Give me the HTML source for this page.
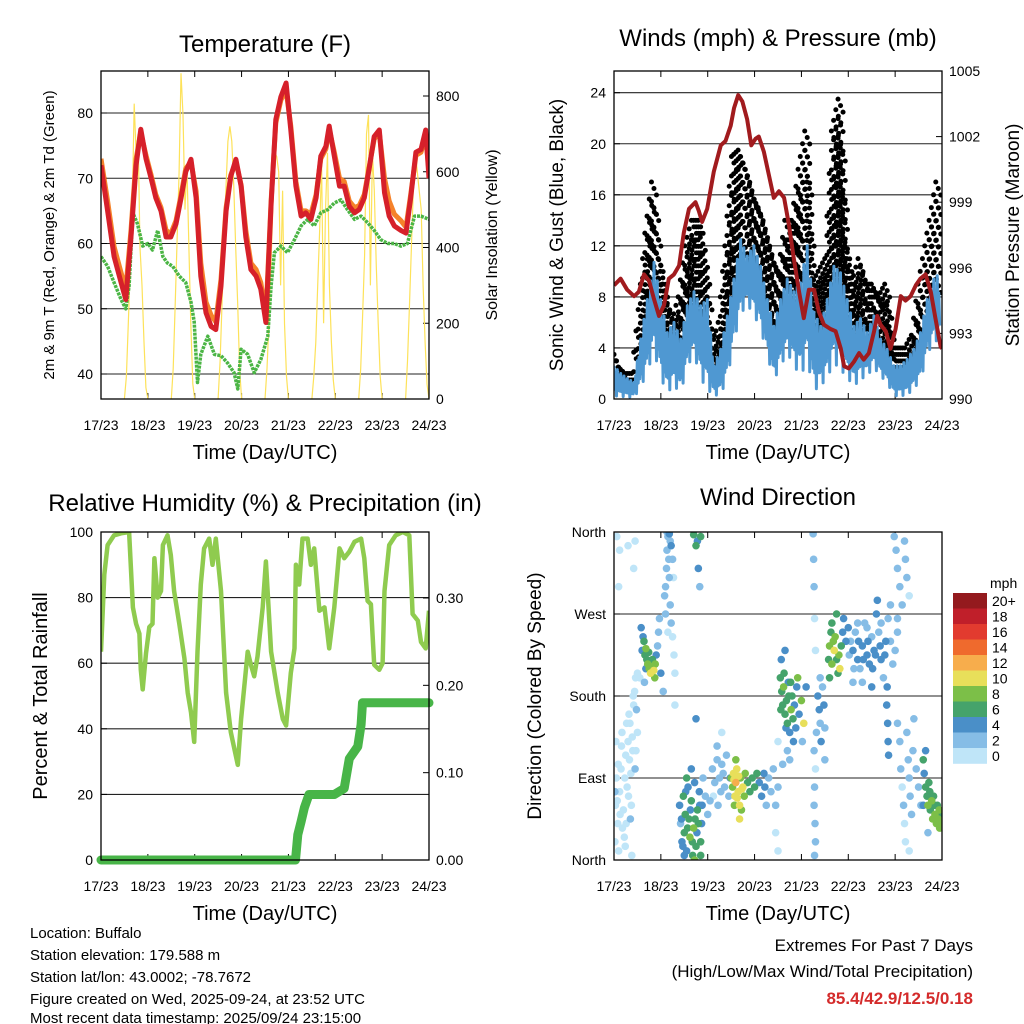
<!DOCTYPE html>
<html><head><meta charset="utf-8"><title>Buffalo station meteogram</title>
<style>
html,body{margin:0;padding:0;background:#fff;}
svg{display:block;font-family:"Liberation Sans",Arial,sans-serif;}
</style></head>
<body>
<svg id="chart" width="1024" height="1024" viewBox="0 0 1024 1024" xmlns="http://www.w3.org/2000/svg">
<rect x="0" y="0" width="1024" height="1024" fill="#fff"/>
<text x="265" y="52" font-size="24" text-anchor="middle">Temperature (F)</text>
<text x="778" y="46" font-size="24" text-anchor="middle">Winds (mph) &amp; Pressure (mb)</text>
<text x="265" y="511" font-size="24" text-anchor="middle">Relative Humidity (%) &amp; Precipitation (in)</text>
<text x="778" y="505" font-size="24" text-anchor="middle">Wind Direction</text>

<text transform="translate(54,235) rotate(-90)" font-size="15" text-anchor="middle">2m &amp; 9m T (Red, Orange) &amp; 2m Td (Green)</text>
<text transform="translate(497,235) rotate(-90)" font-size="16" text-anchor="middle">Solar Insolation (Yellow)</text>
<text transform="translate(563,235) rotate(-90)" font-size="19" text-anchor="middle">Sonic Wind &amp; Gust (Blue, Black)</text>
<text transform="translate(1019,235) rotate(-90)" font-size="19" text-anchor="middle">Station Pressure (Maroon)</text>
<text transform="translate(47,696) rotate(-90)" font-size="20" text-anchor="middle">Percent &amp; Total Rainfall</text>
<text transform="translate(541,696) rotate(-90)" font-size="19" text-anchor="middle">Direction (Colored By Speed)</text>

<text x="265" y="459" font-size="20" text-anchor="middle">Time (Day/UTC)</text>
<text x="778" y="459" font-size="20" text-anchor="middle">Time (Day/UTC)</text>
<text x="265" y="920" font-size="20" text-anchor="middle">Time (Day/UTC)</text>
<text x="778" y="920" font-size="20" text-anchor="middle">Time (Day/UTC)</text>

<g font-size="15">
<text x="30" y="938">Location: Buffalo</text>
<text x="30" y="960">Station elevation: 179.588 m</text>
<text x="30" y="982">Station lat/lon: 43.0002; -78.7672</text>
<text x="30" y="1004">Figure created on Wed, 2025-09-24, at 23:52 UTC</text>
<text x="30" y="1025" dy="-2">Most recent data timestamp: 2025/09/24 23:15:00</text>
</g>
<g font-size="17" text-anchor="end">
<text x="973" y="951">Extremes For Past 7 Days</text>
<text x="973" y="977">(High/Low/Max Wind/Total Precipitation)</text>
<text x="973" y="1004" font-weight="bold" fill="#d42b2b">85.4/42.9/12.5/0.18</text>
</g>
<g id="layer"></g>
</svg>
<script>
// ---------- data ----------
const dayLabels = ["17/23","18/23","19/23","20/23","21/23","22/23","23/23","24/23"];
const tempDays = [0,0.14,0.28,0.43,0.53,0.64,0.75,0.85,0.96,1.07,1.17,1.28,1.39,1.49,1.6,1.71,1.81,1.92,2.03,2.13,2.24,2.35,2.45,2.56,2.67,2.77,2.88,2.99,3.09,3.2,3.31,3.41,3.52,3.63,3.73,3.84,3.95,4.05,4.16,4.27,4.37,4.48,4.59,4.69,4.8,4.87,4.98,5.09,5.19,5.3,5.41,5.51,5.62,5.73,5.83,5.94,6.05,6.15,6.26,6.4,6.51,6.61,6.72,6.83,6.93,7.0];
const tempRed = [72,65,58,54,51.4,61,72,77.5,73,70,67,65,61,61,63,67,71,72.9,67,55,49.4,47.3,46.8,53.5,65,70.3,72.9,68.8,61,56,55,53,47.9,66,79,82.5,84.6,77.4,68.8,64.2,64.7,63.7,67,73.4,74.9,78,73.4,68.8,68.8,65.7,64.7,65.2,67,71.8,76.4,77.4,67.8,64.2,62.7,62,61.6,67,74,74.4,77.4,70];
const tempOrange = [73,66.5,59.5,55.5,53,62,73,77,73.5,70.5,67.5,65.5,62,61.5,63.5,67.5,71.5,72.5,68,57,51,49,48,54.5,65.5,70.5,72.5,69,62,57,56,54,49,66.5,78.5,82,83.5,78,69.5,65,65,64.5,67.5,73,74.5,77.5,74,70,69.5,66.5,65.5,65.8,67.5,72,76,77,70,66.5,64.5,63.5,62.5,67.5,73.5,74,76.5,71];
const dewDays = [0,0.14,0.28,0.43,0.53,0.6,0.68,0.78,0.89,1.0,1.1,1.21,1.32,1.42,1.53,1.67,1.81,1.92,1.99,2.06,2.13,2.28,2.42,2.56,2.7,2.84,2.92,2.99,3.13,3.27,3.41,3.56,3.63,3.7,3.84,3.98,4.13,4.27,4.41,4.55,4.69,4.84,4.98,5.12,5.26,5.41,5.55,5.69,5.83,5.97,6.12,6.26,6.4,6.54,6.69,6.83,7.0];
const dewValues = [58,56.5,54,51.4,50,53.5,64.7,63,59.6,60,59,62,58,57,56.5,55,54,51,48,38.7,43,45.8,43,42.8,41.7,40.2,37.7,43.8,43,40.2,42.2,45.8,53.5,58.6,59.6,58.6,60.6,62.7,63.7,62.7,64.7,65.2,66.2,66.7,65.2,63.7,64.2,63.2,62,60.6,60,60,59.6,60,64.2,64.2,63.7];
const solarDay1 = [0,60,200,350,500,780,650,700,400,300,150,30,0];
const solarDay2 = [0,80,250,420,600,860,750,500,620,400,200,40,0];
const solarDay3 = [0,100,250,400,560,680,720,680,560,400,250,80,0];
const solarDay4 = [0,80,200,350,500,650,640,600,300,550,200,60,0];
const solarDay5 = [0,60,150,300,450,620,200,500,650,300,150,50,0];
const solarDay6 = [0,80,220,380,700,750,300,650,550,350,200,60,0];
const solarDay7 = [0,100,250,400,560,650,600,550,500,300,150,40,0];
const solarTicks = [0,200,400,600,800];
const tempTicks = [40,50,60,70,80];

const windStepDays = 0.1422;
const windHigh = [2.6,2,1.6,1.3,4.7,7.8,10.7,7.8,5.2,6,4.7,7.3,8.4,7.3,7.8,2.6,3.9,6.5,9.4,12.5,11.2,12,10.4,7.8,5.7,7.8,9.4,8.4,9.1,12,6.8,5.7,7.8,10.4,9.9,7.8,5.7,6.3,5.2,6.5,4.7,3.9,2.6,2.6,3.1,3.9,5.2,7.8,9.4,9.9];
const windLow = [0,0,0,0,0.5,1.5,3,1,0,0.5,0,2,3,1,0,0,0,1,4,6,7,6,5,3,1,2,3,2,1,2,0,0.5,1,2,1.5,1,0.5,1,1.5,2,1.5,1,0,0,0,0.5,1,3,4,4];
const gustHigh = [4,2.5,2,2,7,13,17,11,8,6,8,12,14,14,10,4,6,12,19,19.5,18,16,15,13,11,10,14,14,18,21,9,10,11,21,23.5,12,9,11,9,9,8,9,4,4,4,5,9,12,15,18];
const pressDays = [0,0.14,0.28,0.43,0.53,0.64,0.75,0.85,0.96,1.07,1.17,1.28,1.39,1.49,1.6,1.74,1.81,1.88,1.99,2.13,2.28,2.38,2.49,2.56,2.65,2.74,2.84,2.93,3.02,3.09,3.2,3.31,3.41,3.52,3.63,3.73,3.84,3.95,4.05,4.16,4.27,4.37,4.48,4.62,4.73,4.84,4.91,5.01,5.12,5.23,5.33,5.44,5.55,5.62,5.69,5.8,5.9,6.01,6.12,6.22,6.33,6.44,6.54,6.65,6.76,6.86,6.97,7.0];
const pressValues = [995.2,995.5,995.0,994.7,994.9,995.7,995.4,994.6,993.8,994.3,995.5,995.7,996.1,997.6,998.7,999,998.6,998.1,998.7,1000.4,1001.6,1001.8,1002.5,1003.3,1003.9,1003.6,1002.8,1001.6,1001.9,1002.0,1001.3,1000.2,999.2,999.5,999.2,998,996.4,994.9,993.7,995,995,994,993.4,993.2,993.1,992.3,991.5,991.4,991.7,992.1,991.8,992.1,993.1,993.8,993.4,993.1,992.3,993.2,994.7,994.5,994.7,995.2,995.5,995.7,994.9,993.7,992.4,992.3];
const windTicks = [0,4,8,12,16,20,24];
const pressTicks = [990,993,996,999,1002,1005];

const rhDays = [0,0.07,0.14,0.28,0.43,0.6,0.68,0.75,0.82,0.85,0.89,0.96,1.03,1.1,1.14,1.21,1.28,1.32,1.42,1.49,1.56,1.67,1.78,1.85,1.92,1.99,2.06,2.13,2.2,2.31,2.38,2.45,2.56,2.67,2.77,2.92,2.99,3.13,3.2,3.27,3.34,3.45,3.52,3.63,3.77,3.88,3.95,4.05,4.13,4.16,4.23,4.3,4.41,4.48,4.55,4.66,4.77,4.87,4.98,5.09,5.19,5.3,5.41,5.55,5.62,5.69,5.76,5.83,5.94,6.01,6.05,6.15,6.29,6.44,6.58,6.65,6.76,6.83,6.93,7.0];
const rhValues = [63.5,87,96,99,99.6,100,77,72,69,58,52,63,71,72,92,80,82,96,99,93,82,72,61.5,51,45,36,63.5,84,95,98,90,98,82,51,39,29,43,63.5,59.5,56,62,77,91,63.5,51,43,41,57,64.5,90,84,98,98,90,95,76,77,64.5,77,95,92,94,97,98,92,79,78,59.5,58,60,82,96,99,100,99,75,73,66.5,64.5,76];
const precipDays = [0,4.15,4.2,4.27,4.34,4.44,4.98,5.19,5.3,5.48,5.55,5.58,7.0];
const precipValues = [0,0,0.029,0.044,0.06,0.075,0.075,0.082,0.116,0.13,0.155,0.18,0.18];
const rhTicks = [0,20,40,60,80,100];
const precipTicks = ["0.00","0.10","0.20","0.30"];

const dirTickLabels = ["North","East","South","West","North"];
const speedBinLabels = ["0","2","4","6","8","10","12","14","16","18","20+"];
const speedColors = ["#bfe5f8","#86bde6","#4a8fc8","#45a36b","#7cbf48","#e8df5a","#f7ad4c","#ef6a2d","#e23b2f","#c01f2a","#941a1e"];
// [day, direction degrees, speed mph]
const dirObs = [
[0.02,20,1],[0.03,60,1],[0.05,90,1],[0.04,130,0.5],[0.08,40,1],[0.1,10,0.5],[0.12,75,1],[0.15,100,1],[0.17,140,1],[0.2,55,1],[0.22,25,1],[0.25,115,1],[0.27,150,0.5],[0.28,80,1],[0.3,130,1],[0.32,160,1],[0.35,45,2],[0.36,95,1],[0.38,5,1],[0.4,120,1],[0.42,170,1],[0.44,185,1],[0.46,200,1],[0.48,165,2],[0.5,140,1],[0.47,120,1],[0.45,100,2],[0.33,110,1],[0.18,35,1],[0.06,355,1],[0.12,340,0.5],[0.3,345,1],[0.45,350,1],[0.1,300,0.5],[0.42,320,1],[0.5,205,1],[0.02,75,3],
[0.07,65,1],[0.09,105,1],[0.13,50,1],[0.16,125,0.5],[0.23,90,1],[0.26,40,1],[0.31,70,1],[0.34,150,1],[0.39,135,1],[0.41,180,1],[0.37,60,1],[0.24,15,1],
[0.58,255,4],[0.62,245,4],[0.6,230,4],[0.64,240,6],[0.66,225,6],[0.68,232,8],[0.7,220,6],[0.72,215,8],[0.75,210,9],[0.78,205,10],[0.8,212,8],[0.82,220,6],[0.85,208,10],[0.88,215,8],[0.9,225,4],[0.93,235,3],[0.95,250,3],[0.97,265,2],[1.0,205,4],[0.68,210,5],[0.74,228,7],[0.87,200,9],[1.05,185,3],[0.65,195,2],[0.55,200,1],
[1.08,290,2],[1.1,300,2],[1.12,320,3],[1.13,340,3],[1.15,355,3],[1.17,330,2],[1.18,310,2],[1.2,280,2],[1.22,260,2],[1.25,245,1],[1.28,225,1],[1.3,205,1],[1.1,270,2],[1.15,250,1],[1.2,350,2],[1.22,345,4],[1.25,330,2],[1.27,310,1],[1.13,360,3],[1.18,358,4],[1.3,170,1],
[1.7,357,6],[1.75,345,7],[1.78,350,5],[1.85,355,6],[1.8,320,4],[1.83,300,2],
[1.4,60,4],[1.42,40,3],[1.45,20,5],[1.48,70,6],[1.5,30,7],[1.52,50,6],[1.55,10,5],[1.58,80,4],[1.6,45,7],[1.62,25,8],[1.65,65,6],[1.68,5,7],[1.7,35,8],[1.72,85,5],[1.75,15,6],[1.78,55,7],[1.8,40,6],[1.82,75,4],[1.85,20,6],[1.88,60,5],[1.9,90,3],[1.95,70,3],[2.0,50,2],[2.05,65,2],[1.55,90,6],[1.65,100,4],[1.5,5,4],[1.72,0,8],[1.85,5,7],
[1.44,45,4],[1.47,15,5],[1.53,75,5],[1.57,35,6],[1.63,55,5],[1.67,20,6],[1.73,45,6],[1.77,30,5],[1.83,60,5],[1.87,40,4],
[2.1,100,2],[2.12,70,1],[2.15,85,2],[2.2,110,3],[2.22,60,2],[2.25,90,3],[2.28,75,2],[2.3,105,3],[2.33,95,3],[2.36,80,2],[2.4,115,3],[2.45,70,2],[2.48,90,4],[2.2,125,2],[2.3,140,1],[1.75,155,4],
[2.5,90,8],[2.53,80,9],[2.55,95,10],[2.58,70,11],[2.6,85,12],[2.62,100,10],[2.65,75,11],[2.68,60,10],[2.7,90,9],[2.72,55,8],[2.75,80,10],[2.78,70,9],[2.8,95,8],[2.85,85,7],[2.9,75,6],[2.95,90,7],[3.0,80,6],[3.05,95,6],[2.6,110,8],[2.68,45,10],
[2.56,88,10],[2.63,68,10],[2.66,92,10],[2.73,78,10],[2.57,60,9],
[3.1,85,4],[3.15,70,4],[3.2,95,5],[3.22,80,4],[3.25,60,3],[3.3,90,3],[3.35,75,2],[3.4,100,2],[3.45,60,2],[3.5,80,2],[3.45,30,1],[3.5,10,1],
[3.55,200,6],[3.58,185,7],[3.6,170,6],[3.62,190,8],[3.65,160,6],[3.68,175,7],[3.7,150,6],[3.72,195,5],[3.75,140,5],[3.78,165,8],[3.8,180,6],[3.82,155,7],[3.85,170,5],[3.88,145,5],[3.9,190,4],[3.92,200,8],[3.95,160,4],[4.0,175,9],[4.05,150,10],[4.02,130,3],[4.1,190,4],[3.57,220,4],[3.65,230,5],[3.7,120,3],[3.75,110,2],[3.5,130,1],[3.6,105,2],
[3.56,165,6],[3.63,205,6],[3.67,145,5],[3.73,180,7],[3.77,195,6],[3.83,130,4],
[4.25,358,2],[4.26,330,2],[4.27,300,2],[4.28,265,1],[4.3,230,1],[4.3,100,1],[4.28,80,2],[4.27,60,2],[4.29,40,3],[4.3,20,3],[4.28,5,3],[4.27,120,2],
[4.35,180,4],[4.38,165,4],[4.4,150,3],[4.42,130,4],[4.45,190,3],[4.48,170,4],[4.5,145,3],[4.32,140,3],[4.4,200,3],[4.5,110,2],
[4.58,220,6],[4.6,235,8],[4.63,250,7],[4.65,260,6],[4.68,240,8],[4.7,230,10],[4.72,245,9],[4.75,220,7],[4.78,205,6],[4.8,225,8],[4.82,210,10],[4.85,235,6],[4.88,250,5],[4.9,265,4],[4.95,240,4],[4.75,270,6],[4.6,200,7],[4.65,215,9],
[5.0,255,4],[5.05,240,3],[5.1,230,4],[5.15,250,3],[5.2,220,4],[5.25,210,3],[5.3,235,4],[5.35,260,3],[5.4,225,4],[5.45,215,5],[5.5,245,3],[5.55,230,4],[5.6,270,4],[5.62,285,4],[5.65,250,3],[5.7,220,4],[5.75,200,3],[5.8,240,4],[5.85,265,3],[5.9,280,2],[5.95,215,2],[6.0,230,2],[6.05,250,2],[5.2,260,2],[5.3,195,2],[5.5,190,4],[5.7,260,2],[5.9,240,2],[5.1,195,2],[5.4,255,2],
[5.02,225,3],[5.12,210,3],[5.22,240,4],[5.32,220,4],[5.42,240,4],[5.52,210,4],[5.58,225,4],[5.68,235,4],[5.78,225,4],
[5.82,170,4],[5.84,150,4],[5.85,130,4],[5.86,115,4],[5.83,190,4],
[5.98,355,2],[6.02,340,2],[6.05,320,2],[6.1,300,2],[6.15,280,2],[6.2,350,2],[6.22,330,3],[6.25,310,2],[6.3,290,1],[6.05,265,2],
[6.05,150,3],[6.1,130,2],[6.12,100,2],[6.15,80,1],[6.18,60,2],[6.2,40,1],[6.22,20,1],[6.25,140,3],[6.28,110,3],[6.3,90,2],[6.32,70,3],[6.35,50,2],[6.38,120,3],[6.4,155,2],[6.45,100,3],[6.5,80,2],[6.55,60,2],[6.3,10,1],
[6.6,110,6],[6.62,95,5],[6.65,80,6],[6.68,70,7],[6.7,60,8],[6.72,85,6],[6.75,55,7],[6.78,65,8],[6.8,45,9],[6.82,70,7],[6.85,50,8],[6.88,40,8],[6.9,60,7],[6.92,45,8],[6.95,35,9],[6.98,50,7],[6.65,120,4],[6.6,60,4],[6.7,30,3],
[6.74,75,6],[6.84,60,7],[6.94,55,8],[6.97,40,8]
];

// ---------- helpers ----------
const NS = "http://www.w3.org/2000/svg";
const layer = document.getElementById("layer");
function mk(tag, attrs, parent) {
  const e = document.createElementNS(NS, tag);
  for (const k in attrs) e.setAttribute(k, attrs[k]);
  (parent || layer).appendChild(e);
  return e;
}
function linScale(d0, d1, r0, r1) { return v => r0 + (v - d0) * (r1 - r0) / (d1 - d0); }
function pathFrom(xs, ys) { return xs.map((x, i) => (i ? "L" : "M") + x.toFixed(1) + "," + ys[i].toFixed(1)).join(""); }

const P1 = {l:101, r:429, t:71, b:399};
const P2 = {l:614, r:942, t:71, b:399};
const P3 = {l:101, r:429, t:532, b:860};
const P4 = {l:614, r:942, t:532, b:860};

function clip(id, P) {
  let defs = document.getElementById("defs");
  if (!defs) { defs = mk("defs", {id:"defs"}); }
  const c = mk("clipPath", {id:id}, defs);
  mk("rect", {x:P.l, y:P.t, width:P.r - P.l, height:P.b - P.t}, c);
}
clip("c1", P1); clip("c2", P2); clip("c3", P3); clip("c4", P4);

function frameAndXAxis(P, name) {
  const x = linScale(0, 7, P.l, P.r);
  const g = mk("g", {});
  
  
  dayLabels.forEach((lab, i) => {
    const xx = x(i);
    mk("line", {x1:xx, x2:xx, y1:P.b, y2:P.b - 6, stroke:"#000", "stroke-width":1}, g);
    mk("line", {x1:xx, x2:xx, y1:P.t, y2:P.t + 6, stroke:"#000", "stroke-width":1}, g);
    const t = mk("text", {x:xx, y:P.b + 31, "font-size":14, "text-anchor":"middle"}, g);
    t.textContent = lab;
    
    
  });
  return x;
}
function border(P, name) {
  const r = mk("rect", {x:P.l, y:P.t, width:P.r - P.l, height:P.b - P.t, fill:"none", stroke:"#000", "stroke-width":1.3});
  
  
}
function yAxis(P, ticks, labels, scale, side, grid, name) {
  const g = mk("g", {});
  
  
  ticks.forEach((v, i) => {
    const yy = scale(v);
    if (grid && yy > P.t + 1 && yy < P.b - 1) mk("line", {x1:P.l, x2:P.r, y1:yy, y2:yy, stroke:"#222", "stroke-width":1.1}, g);
    if (side === "left") {
      mk("line", {x1:P.l, x2:P.l + 6, y1:yy, y2:yy, stroke:"#000"}, g);
      const t = mk("text", {x:P.l - 8, y:yy + 5, "font-size":14, "text-anchor":"end"}, g);
      t.textContent = labels[i];
      
      
    } else {
      mk("line", {x1:P.r, x2:P.r - 6, y1:yy, y2:yy, stroke:"#000"}, g);
      const t = mk("text", {x:P.r + 7, y:yy + 5, "font-size":14, "text-anchor":"start"}, g);
      t.textContent = labels[i];
      
      
    }
  });
}

// ---------- Panel 1: temperature ----------
{
  const x = frameAndXAxis(P1, "temperature");
  const yT = linScale(40, 80, 374, 113);
  const yS = linScale(0, 800, 399, 96);
  yAxis(P1, tempTicks, tempTicks.map(String), yT, "left", true, "temperature-y-axis");
  yAxis(P1, solarTicks, solarTicks.map(String), yS, "right", false, "solar-y-axis");
  const g = mk("g", {"clip-path":"url(#c1)"});
  
  
  const solarRows = [solarDay1, solarDay2, solarDay3, solarDay4, solarDay5, solarDay6, solarDay7];
  solarRows.forEach((row, d) => {
    const xs = row.map((v, h) => x(d + 0.5 + h / 24));
    const ys = row.map(v => yS(v));
    const p = mk("path", {d:pathFrom(xs, ys), fill:"none", stroke:"#fde25a", "stroke-width":1.2}, g);
    
    
  });
  const pd = mk("path", {d:pathFrom(dewDays.map(x), dewValues.map(yT)), fill:"none", stroke:"#4bb545", "stroke-width":3.5, "stroke-dasharray":"3 1", "stroke-linejoin":"round"}, g);
  
  
  const po = mk("path", {d:pathFrom(tempDays.map(x), tempOrange.map(yT)), fill:"none", stroke:"#f5822a", "stroke-width":5, "stroke-linejoin":"round"}, g);
  
  
  const pr = mk("path", {d:pathFrom(tempDays.map(x), tempRed.map(yT)), fill:"none", stroke:"#d6202a", "stroke-width":5, "stroke-linejoin":"round"}, g);
  
  
  border(P1, "temperature");
}

// ---------- Panel 2: winds & pressure ----------
{
  const x = frameAndXAxis(P2, "wind");
  const yW = linScale(0, 24, 399, 92.7);
  const yP = linScale(990, 1005, 399, 71);
  yAxis(P2, windTicks, windTicks.map(String), yW, "left", true, "wind-y-axis");
  yAxis(P2, pressTicks, pressTicks.map(String), yP, "right", false, "pressure-y-axis");
  const g = mk("g", {"clip-path":"url(#c2)"});
  
  
  // gust dots
  const gd = mk("g", {fill:"#000"}, g);
  
  
  const sub = 3;
  for (let i = 0; i < gustHigh.length - 1; i++) {
    for (let s = 0; s < sub; s++) {
      const f = s / sub;
      const day = (i + f) * windStepDays;
      const top = gustHigh[i] + (gustHigh[i + 1] - gustHigh[i]) * f;
      const bot = (windHigh[i] + (windHigh[i + 1] - windHigh[i]) * f) * 0.8;
      const y0 = yW(top), y1 = yW(bot);
      let k = 0;
      for (let yy = y0; yy <= y1 + 0.1; yy += 6.5) {
        const c = mk("circle", {cx:x(day) + (k % 3 - 1) * 2.5, cy:yy, r:2.5}, gd);
        
        
        k++;
      }
    }
  }
  // blue wind: dense jagged trace oscillating between low and high envelopes
  const zx = [], zy = [];
  const zsub = 8;
  for (let i = 0; i < windHigh.length - 1; i++) {
    for (let s = 0; s < zsub; s++) {
      const f = s / zsub;
      const day = (i + f) * windStepDays;
      const hi = windHigh[i] + (windHigh[i + 1] - windHigh[i]) * f;
      const lo = windLow[i] + (windLow[i + 1] - windLow[i]) * f;
      const v = (s % 2 === 0) ? hi * (s % 4 === 0 ? 1 : 0.85) : lo + (hi - lo) * (s % 3 === 0 ? 0.1 : 0.3);
      zx.push(x(day)); zy.push(yW(v));
    }
  }
  const band = mk("path", {d:pathFrom(zx, zy), fill:"none", stroke:"#4f98d2", "stroke-width":3, "stroke-linejoin":"round"}, g);
  
  
  const pp = mk("path", {d:pathFrom(pressDays.map(x), pressValues.map(yP)), fill:"none", stroke:"#a11b1e", "stroke-width":4, "stroke-linejoin":"round"}, g);
  
  
  border(P2, "wind");
}

// ---------- Panel 3: RH & precipitation ----------
{
  const x = frameAndXAxis(P3, "humidity");
  const yR = linScale(0, 100, 860, 532);
  const yPr = linScale(0, 0.3, 860, 598);
  yAxis(P3, rhTicks, rhTicks.map(String), yR, "left", true, "humidity-y-axis");
  yAxis(P3, precipTicks.map(Number), precipTicks, yPr, "right", false, "precip-y-axis");
  const g = mk("g", {"clip-path":"url(#c3)"});
  
  
  const prh = mk("path", {d:pathFrom(rhDays.map(x), rhValues.map(yR)), fill:"none", stroke:"#8fcb4f", "stroke-width":4.5, "stroke-linejoin":"round"}, g);
  
  
  const ppc = mk("path", {d:pathFrom(precipDays.map(x), precipValues.map(yPr)), fill:"none", stroke:"#48b548", "stroke-width":9, "stroke-linejoin":"round", "stroke-linecap":"round"}, layer);
  
  
  border(P3, "humidity");
}

// ---------- Panel 4: wind direction ----------
{
  const x = frameAndXAxis(P4, "direction");
  const yD = linScale(0, 360, 860, 532);
  yAxis(P4, [0, 90, 180, 270, 360], dirTickLabels, yD, "left", true, "direction-y-axis");
  const g = mk("g", {"clip-path":"url(#c4)"});
  
  
  const sorted = dirObs.slice().sort((a, b) => a[2] - b[2]);
  sorted.forEach(o => {
    const bin = Math.min(10, Math.floor(o[2] / 2));
    const c = mk("circle", {cx:x(o[0]), cy:yD(o[1]), r:3.8, fill:speedColors[bin]}, g);
    
    
  });
  border(P4, "direction");
  const cb = mk("g", {});
  
  
  const unit = mk("text", {x:990, y:588, "font-size":14}, cb);
  unit.textContent = "mph";
  
  
  const boxH = 15.5;
  for (let i = 0; i < speedColors.length; i++) {
    const k = speedColors.length - 1 - i;
    const yy = 593 + i * boxH;
    const r = mk("rect", {x:953, y:yy, width:34, height:boxH + 0.3, fill:speedColors[k]}, cb);
    
    
    const t = mk("text", {x:992, y:yy + 13, "font-size":14}, cb);
    t.textContent = speedBinLabels[k];
    
    
  }
}
</script>
</body></html>
